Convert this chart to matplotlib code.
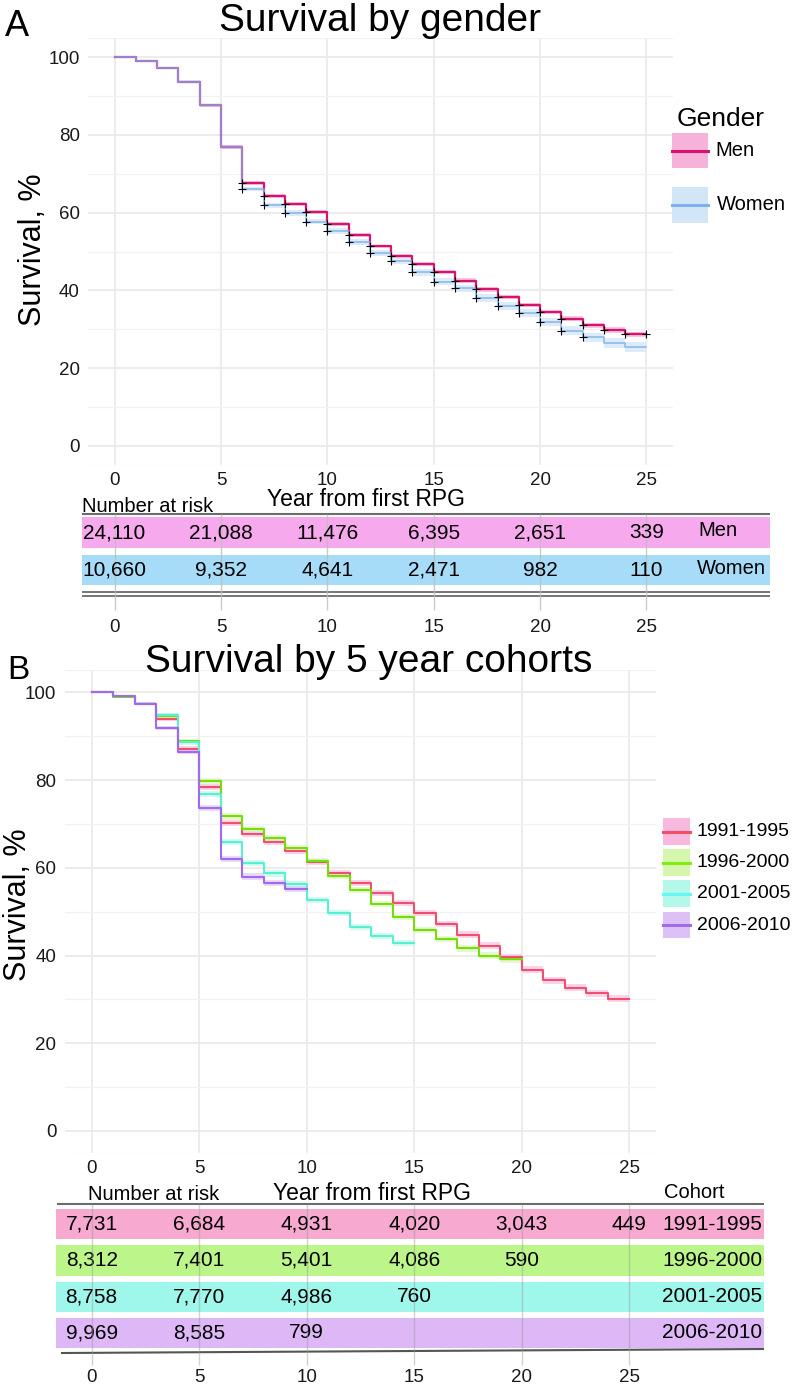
import numpy as np
import matplotlib
matplotlib.use('Agg')
import matplotlib.pyplot as plt
from matplotlib.patches import Rectangle

plt.rcParams['font.family'] = ['Liberation Sans', 'DejaVu Sans']

W, H = 793, 1391

# ---- Panel A: survival by gender (yearly steps, value at start of each year) ----
years_a = list(range(26))
men = [100, 99.0, 97.3, 93.7, 87.6, 76.9, 67.6, 64.3, 62.3, 60.1, 57.1, 54.2, 51.3,
       48.9, 46.8, 44.7, 42.5, 40.3, 38.3, 36.2, 34.4, 32.7, 31.0, 29.8, 28.7, 28.7]
women = [100, 99.0, 97.3, 93.7, 87.6, 76.9, 66.1, 61.9, 59.9, 57.7, 55.3, 52.4, 49.6,
         47.5, 44.7, 42.2, 40.5, 38.1, 36.0, 34.2, 31.8, 29.6, 27.9, 26.4, 25.5, 25.5]
men_ci = [0, 0.1, 0.2, 0.3, 0.4, 0.5, 0.5, 0.5, 0.5, 0.5, 0.5, 0.5, 0.5,
          0.5, 0.5, 0.6, 0.6, 0.6, 0.6, 0.6, 0.6, 0.6, 0.7, 0.7, 0.7, 0.7]
women_ci = [0, 0.1, 0.2, 0.4, 0.5, 0.6, 0.6, 0.6, 0.7, 0.7, 0.7, 0.8, 0.8,
            0.8, 0.9, 0.9, 0.9, 1.0, 1.0, 1.1, 1.1, 1.2, 1.2, 1.3, 1.3, 1.3]
men_censor = list(range(6, 26))
women_censor = list(range(6, 23))

risk_years = [0, 5, 10, 15, 20, 25]
men_risk = ['24,110', '21,088', '11,476', '6,395', '2,651', '339']
women_risk = ['10,660', '9,352', '4,641', '2,471', '982', '110']

# ---- Panel B: survival by 5 year cohorts ----
cohorts = ['1991-1995', '1996-2000', '2001-2005', '2006-2010']
surv_1991 = [100, 99.1, 97.4, 93.9, 87.1, 78.5, 70.3, 67.8, 65.9, 63.9, 61.4, 58.9, 56.5,
             54.3, 51.9, 49.6, 47.2, 44.7, 42.2, 39.6, 36.7, 34.4, 32.7, 31.4, 30.1, 30.1]
surv_1996 = [100, 98.9, 97.4, 94.7, 88.8, 79.7, 71.7, 68.8, 66.8, 64.5, 61.6, 58.1, 54.9,
             51.8, 48.7, 45.8, 43.7, 41.6, 39.9, 39.1, 39.1]
surv_2001 = [100, 99.1, 97.4, 94.9, 88.6, 76.9, 65.8, 61.0, 58.7, 56.2, 52.7, 49.6, 46.5,
             44.4, 42.9, 42.9]
surv_2006 = [100, 99.1, 97.4, 91.9, 86.5, 73.6, 62.0, 58.0, 56.5, 55.2, 55.2]
ci_1991 = [0, 0.2, 0.3, 0.5, 0.6, 0.7, 0.7, 0.7, 0.7, 0.7, 0.7, 0.7, 0.7,
           0.7, 0.7, 0.7, 0.7, 0.8, 0.8, 0.8, 0.8, 0.8, 0.8, 0.8, 0.8, 0.8]
ci_1996 = [0, 0.2, 0.3, 0.5, 0.6, 0.7, 0.7, 0.7, 0.7, 0.7, 0.7, 0.7, 0.7,
           0.7, 0.7, 0.7, 0.7, 0.8, 0.8, 0.8, 0.8]
ci_2001 = [0, 0.2, 0.3, 0.5, 0.6, 0.7, 0.7, 0.7, 0.7, 0.7, 0.7, 0.7, 0.7,
           0.7, 0.7, 0.7]
ci_2006 = [0, 0.2, 0.3, 0.5, 0.6, 0.7, 0.7, 0.7, 0.7, 0.7, 0.7]
cohort_risk = [['7,731', '6,684', '4,931', '4,020', '3,043', '449'],
               ['8,312', '7,401', '5,401', '4,086', '590'],
               ['8,758', '7,770', '4,986', '760'],
               ['9,969', '8,585', '799']]

men_line, men_band, men_tab = '#D6146E', '#F7B2D9', '#F6A9EC'
women_line, women_band, women_tab = '#7EB2EC', '#D3E6F8', '#A6DCF8'
coh_line = ['#F0506E', '#76DC0A', '#58EFD2', '#A06AF0']
coh_legend_line = ['#EE5068', '#80EE10', '#66F6F6', '#9E6CEC']
coh_band = ['#F9B8DD', '#D6F6AE', '#B4F8EA', '#DCC0F6']
coh_tab = ['#F7A9D0', '#BCF68A', '#9FF6EA', '#DDB7F6']

fig = plt.figure(figsize=(W / 100, H / 100), dpi=100)


def px_axes(l, t, r, b):
    return fig.add_axes([l / W, 1 - b / H, (r - l) / W, (b - t) / H])


def style_main(ax):
    ax.set_xlim(-1.25, 26.25)
    ax.set_ylim(-5, 105)
    ax.set_xticks(risk_years)
    ax.set_yticks([0, 20, 40, 60, 80, 100])
    ax.set_yticks([-5, 10, 30, 50, 70, 90, 105], minor=True)
    ax.grid(True, which='major', color='#EBEBEB', lw=1.3)
    ax.grid(True, which='minor', axis='y', color='#F2F2F2', lw=0.9)
    ax.tick_params(which='both', length=0, labelsize=13.5, labelcolor='#1a1a1a')
    ax.tick_params(axis='y', pad=6)
    ax.tick_params(axis='x', pad=5)
    for s in ax.spines.values():
        s.set_visible(False)
    ax.set_axisbelow(True)


# ---------------- Panel A ----------------
axA = px_axes(88, 37.9, 673, 465.1)
style_main(axA)
for surv, ci, band in [(women, women_ci, women_band), (men, men_ci, men_band)]:
    s = np.array(surv)
    c = np.array(ci)
    axA.fill_between(years_a, s - c, s + c, step='post', color=band, alpha=0.75, lw=0)
axA.step(years_a, men, where='post', color=men_line, lw=1.6)
axA.step(years_a, women, where='post', color=women_line, lw=1.2, alpha=0.85)
axA.plot(men_censor, [men[y] for y in men_censor], '+', color='black', ms=5.5, mew=0.8)
axA.plot(women_censor, [women[y] for y in women_censor], '+', color='black', ms=5.5, mew=0.8)

# table A
ppyA = 585 / 27.5
x0A = 88 + 1.25 * ppyA
tA = px_axes(82, 505, 770, 640)
tA.set_xlim((82 - x0A) / ppyA, (770 - x0A) / ppyA)
tA.set_ylim(640, 505)
tA.axis('off')
tA.axhspan(517, 548, color=men_tab, lw=0)
tA.axhspan(555, 585, color=women_tab, lw=0)
tA.axhline(514, color='#6b6b6b', lw=1.5)
tA.axhline(592, color='#6b6b6b', lw=1.3)
tA.axhline(595.5, color='#6b6b6b', lw=1.3)
tA.vlines(risk_years, 514, 610, color='#BDBDBD', lw=1, alpha=0.8, zorder=3)
for yr, m, w in zip(risk_years, men_risk, women_risk):
    tA.text(yr, 533, m, ha='center', va='center', fontsize=15, zorder=4)
    tA.text(yr, 570.5, w, ha='center', va='center', fontsize=15, zorder=4)
    tA.text(yr, 627, str(yr), ha='center', va='center', fontsize=13.5, color='#1a1a1a')
tA.text((698 - x0A) / ppyA, 531, 'Men', ha='left', va='center', fontsize=14.5)
tA.text((697 - x0A) / ppyA, 569, 'Women', ha='left', va='center', fontsize=14.5)

# ---------------- Panel B ----------------
axB = px_axes(64.8, 670.4, 656, 1152.9)
style_main(axB)
cohort_surv = [surv_1991, surv_1996, surv_2001, surv_2006]
cohort_ci = [ci_1991, ci_1996, ci_2001, ci_2006]
for surv, ci, band in zip(cohort_surv, cohort_ci, coh_band):
    s = np.array(surv)
    c = np.array(ci)
    axB.fill_between(range(len(s)), s - c, s + c, step='post', color=band, alpha=0.6, lw=0)
for surv, col in zip(cohort_surv, coh_line):
    axB.step(range(len(surv)), surv, where='post', color=col, lw=1.5)

# table B
ppyB = (656 - 64.8) / 27.5
x0B = 64.8 + 1.25 * ppyB
tB = px_axes(56, 1185, 764, 1391)
tB.set_xlim((56 - x0B) / ppyB, (764 - x0B) / ppyB)
tB.set_ylim(1391, 1185)
tB.axis('off')
rows_px = [(1209, 1239), (1245, 1276), (1282, 1312), (1318, 1348)]
tB.plot([(58 - x0B) / ppyB, (764 - x0B) / ppyB], [1204, 1204], color='#6b6b6b', lw=1.5)
tB.plot([(62 - x0B) / ppyB, (764 - x0B) / ppyB], [1353, 1349], color='#555555', lw=1.5)
for (top, bot), col, vals, name in zip(rows_px, coh_tab, cohort_risk, cohorts):
    tB.axhspan(top, bot, color=col, lw=0)
    yc = (top + bot) / 2
    for yr, v in zip(risk_years, vals):
        tB.text(yr, yc, v, ha='center', va='center', fontsize=15, zorder=4)
    tB.text((762 - x0B) / ppyB, yc, name, ha='right', va='center', fontsize=15, zorder=4)
tB.vlines(risk_years, 1204, 1365, color='#9a9a9a', lw=1, alpha=0.45, zorder=5)
for yr in risk_years:
    tB.text(yr, 1378, str(yr), ha='center', va='center', fontsize=13.5, color='#1a1a1a')

# ---------------- overlay: titles, labels, legends ----------------
ov = fig.add_axes([0, 0, 1, 1])
ov.set_xlim(0, W)
ov.set_ylim(H, 0)
ov.axis('off')

ov.text(17, 36, 'A', fontsize=26, ha='center', va='baseline')
ov.text(380, 31, 'Survival by gender', fontsize=28, ha='center', va='baseline')
ov.text(33, 250, 'Survival, %', fontsize=22, rotation=90, ha='center', va='center')
ov.text(366, 500, 'Year from first RPG', fontsize=16.5, ha='center', va='center')
ov.text(82, 506, 'Number at risk', fontsize=14.5, ha='left', va='center')

ov.text(677, 126, 'Gender', fontsize=19, ha='left', va='baseline')
for (top, bot), band, line, lab, lx in [((133, 168), men_band, men_line, 'Men', 715),
                                        ((187, 223), women_band, women_line, 'Women', 717)]:
    ov.add_patch(Rectangle((672, top), 36, bot - top, color=band, lw=0))
    yc = (top + bot) / 2
    ov.plot([672, 708], [yc, yc], color=line, lw=2.2)
    ov.text(lx, yc, lab, fontsize=14.5, ha='left', va='center')

ov.text(18, 679, 'B', fontsize=24, ha='center', va='baseline')
ov.text(369, 672, 'Survival by 5 year cohorts', fontsize=28, ha='center', va='baseline')
ov.text(18, 905, 'Survival, %', fontsize=22, rotation=90, ha='center', va='center')
ov.text(372, 1193, 'Year from first RPG', fontsize=16.5, ha='center', va='center')
ov.text(88, 1194, 'Number at risk', fontsize=14.5, ha='left', va='center')
ov.text(694, 1193, 'Cohort', fontsize=14.5, ha='center', va='center')

leg_rows = [(818, 845), (849, 876), (880, 907), (912, 938)]
for (top, bot), band, line, lab in zip(leg_rows, coh_band, coh_legend_line, cohorts):
    ov.add_patch(Rectangle((663, top), 27, bot - top, color=band, lw=0))
    yc = (top + bot) / 2
    ov.plot([663, 690], [yc, yc], color=line, lw=2.2)
    ov.text(697, yc, lab, fontsize=14, ha='left', va='center')

fig.savefig('out.png', dpi=100)
